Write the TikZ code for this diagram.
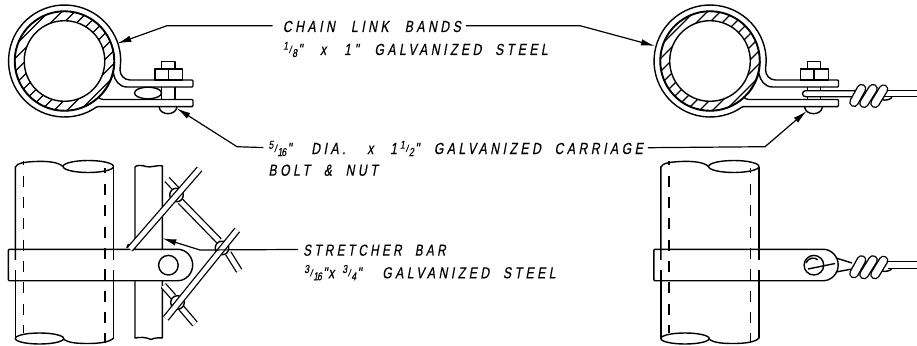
\documentclass[tikz,border=0pt]{standalone}
\usepackage{fontspec}
\usetikzlibrary{arrows.meta,calc,positioning}
\newfontfamily\notefont[FakeSlant=0.18,FakeStretch=0.76,FakeBold=0.4,LetterSpace=22,WordSpace=2]{Liberation Sans}
\newcommand{\FracNote}[2]{\raisebox{5.3pt}{\fontsize{11.5}{11.5}\selectfont #1}\kern1pt\raisebox{2pt}{\fontsize{10}{10}\selectfont /}\kern1pt\raisebox{-2pt}{\fontsize{11.5}{11.5}\selectfont #2}\kern1pt}
\tikzset{
  part/.style={line width=1.4pt, line join=round},
  hatchline/.style={line width=1.2pt},
  dashline/.style={line width=1.4pt, dash pattern=on 11pt off 10.3pt},
  wirelink/.style={line width=1.3pt, double=white, double distance=4.6pt},
  coilwire/.style={line width=1.4pt, double=white, double distance=7pt, line cap=round},
  leader/.style={line width=1.2pt, shorten <=5pt},
  leaderTip/.style={-{Latex[length=14pt,width=6.5pt]}},
  note/.style={font=\notefont\fontsize{16}{16}\selectfont, inner sep=0pt, anchor=base west, text height=12.5pt, text depth=0pt}
}
\newcommand{\DrawBand}{%
  % pipe wall, hatched
  \begin{scope}
    \clip (64.5,61) circle[radius=49.5];
    \foreach \s in {-65,-52,...,65}{%
      \draw[hatchline] ({\s+4.5},121) -- ++(120,-120);
    }%
  \end{scope}
  \draw[part] (64.5,61) circle[radius=49.5];
  \draw[part, fill=white] (64.5,61) circle[radius=40.3];
  % band with both lugs
  \draw[part, rounded corners=1pt] (193,80) -- (131,80) .. controls (124,80) and (120,75) .. (120,68.8)
    arc[start angle=8, end angle=-305.4, radius=56] -- (193,106.7) -- (193,99.5) -- (104,99.5)
    .. controls (102,99.5) and (100,98.5) .. (98.6,97.6)
    arc[start angle=47, end angle=-347, radius=50] .. controls (114.5,80) and (119,87) .. (128,87) -- (193,87) -- cycle;
  % nut and carriage head
  \draw[part] (155,80) rectangle (182.7,69);
  \draw[part] (168.5,69) -- (168.5,80);
  \draw[part] (161.7,69) rectangle (175,61.7);
  \draw[part] (159,106.7) .. controls (160,116) and (176,116) .. (177,106.7);
}
\newcommand{\DrawPipe}{%
  % pipe seen from the side, broken at both ends
  \draw[part] (15.3,260) -- (15.3,167) .. controls (17,163) and (25,162) .. (35,161.5) .. controls (48,161) and (58,162) .. (63,166.5);
  \draw[part] (88.3,166.5) ellipse[x radius=25.2, y radius=6];
  \draw[part] (113.6,167) -- (113.6,260);
  \draw[part] (15.3,270) -- (15.3,338.5);
  \draw[part] (113.6,270) -- (113.6,338);
  \draw[part] (39.5,338.5) ellipse[x radius=24.2, y radius=5.5];
  \draw[part] (63.5,339) .. controls (68,343) and (78,343.5) .. (88,343.5) .. controls (100,343.5) and (110,342) .. (113.6,338);
  \draw[dashline] (23.3,161) -- (23.3,164.5) (23.3,175.7) -- (23.3,333);
  \draw[dashline] (105,168) -- (105,173) (105,184) -- (105,343);
  % flat bar
  \draw[part, rounded corners=1pt] (8.3,249.3) -- (177,249.3) arc[start angle=-90, end angle=90, radius=15.7] -- (8.3,280.7) -- cycle;
  \draw[part] (168.4,265.2) circle[radius=9.8];
}
\newcommand{\DrawTwist}{%
  \draw[coilwire] (854,273.5) -- (861.5,260);
  \draw[coilwire] (864,274.5) -- (873,260);
  \draw[coilwire] (875,274.5) -- (883.5,260.5);
}
\begin{document}
\begin{tikzpicture}[x=1pt,y=-1pt]
  \useasboundingbox (0,0) rectangle (917,345);
  % top views
  \DrawBand
  \draw[part, fill=white] (148,93) ellipse[x radius=13.5, y radius=5.8];
  \draw[part] (161.7,87) -- (161.7,99.5) (175,87) -- (175,99.5);
  \begin{scope}[xshift=645.5pt]
    \DrawBand
    \draw[part] (161.7,87) -- (161.7,90.7) (175,87) -- (175,90.7);
    \draw[part] (161.7,96.7) -- (161.7,99.5) (175,96.7) -- (175,99.5);
  \end{scope}
  \draw[part, rounded corners=3pt] (855,90.7) -- (802.5,90.7) -- (802.5,96.7) -- (855,96.7);
  \draw[part] (880,90.7) -- (917,90.7) (880,96.7) -- (917,96.7);
  \begin{scope}[yshift=171.3pt]
    \draw[part] (882,271) .. controls (886,272) and (890,271) .. (892,268.5);
    \DrawTwist
  \end{scope}
  % side views
  \DrawPipe
  \begin{scope}[xshift=645.5pt]
    \DrawPipe
  \end{scope}
  % post behind the mesh
  \draw[part] (135,249.3) -- (135,167) .. controls (136,165) and (142,165) .. (146,166.5) .. controls (150,168) and (156,165) .. (162.3,165.8) -- (162.3,249.3);
  \draw[part] (135,280.7) -- (135,338) .. controls (140,337) and (146,337) .. (151,339.5) .. controls (154,338) and (158,337.5) .. (162.3,338) -- (162.3,280.7);
  % mesh
  \draw[wirelink] (167,179.5) -- (177,190);
  \draw[wirelink] (180.5,201.3) -- (219,240.8);
  \draw[wirelink] (228.3,253.3) -- (239.2,270.8);
  \draw[wirelink] (163.3,285.5) -- (173.3,296.7);
  \draw[wirelink] (180.5,307) -- (195,324);
  \foreach \kx/\ky in {176.5/195,222/248,177.5/302.5}{%
    \draw[part, fill=white] (\kx,\ky) circle[radius=6.8];
  }
  \draw[wirelink] (130,249) -- (199.5,169);
  \draw[part] (127,248) .. controls (127,246) and (128,245) .. (129,244);
  \draw[wirelink] (165.8,318.4) -- (237.2,230);
  % side view wire, right
  \draw[part] (808,269) -- (835,263.5) (836,258) -- (852,263) (836,272) -- (852,269);
  \draw[part] (806,263) arc[start angle=200, end angle=310, radius=7.5];
  \draw[part] (888,261.7) -- (917,261.7) (888,268.3) -- (917,268.3);
  \draw[part] (882,271) .. controls (886,272) and (890,271) .. (892,268.5);
  \DrawTwist
  % notes
  \node[note] (bandsA) at (282.7,32) {CHAIN\kern2.4pt{} LINK\kern2.4pt{} BANDS};
  \node[note] (bandsB) at (283,55) {\FracNote{1}{8}"\kern4pt{} x\kern4pt{} 1"\kern2pt{} GALVANIZED STEEL};
  \node[note] (boltA) at (268.3,154) {\FracNote{5}{1\kern-1pt 6}"\kern6pt{} DIA.\kern8pt{} x\kern3pt{} 1\kern3pt\FracNote{1}{2}"\kern1pt{} GALVANIZED\kern0pt{} CARRIAGE};
  \node[note] (boltB) at (268.3,175.7) {BOLT \& NUT};
  \node[note] (barA) at (303,255.7) {\scalebox{.96}[1]{STRETCHER BAR}};
  \node[note] (barB) at (304,278.3) {\FracNote{3}{1\kern-1pt 6}"\kern1pt x\kern8pt\FracNote{3}{4}"\kern7pt{} GALVANIZED STEEL};
  % leaders
  \coordinate (bandTipL) at (117.3,43.5);
  \coordinate (bandTipR) at (655,46);
  \coordinate (boltTipL) at (176.7,108.3);
  \coordinate (boltTipR) at (806.7,111);
  \coordinate (barTip) at (162.3,238.3);
  \draw[leader, leaderTip, shorten <=10pt] (bandsA.west) -- (167,25.7) -- (bandTipL);
  \draw[leader, leaderTip] (bandsA.east) -- (580,25.7) -- (bandTipR);
  \draw[leader, leaderTip] (boltA.west) -- (237,146.7) -- (boltTipL);
  \draw[leader, leaderTip] (boltA.east) -- (765,146.7) -- (boltTipR);
  \draw[leader, leaderTip] (barA.west) -- (200,250) -- (barTip);
\end{tikzpicture}
\end{document}
